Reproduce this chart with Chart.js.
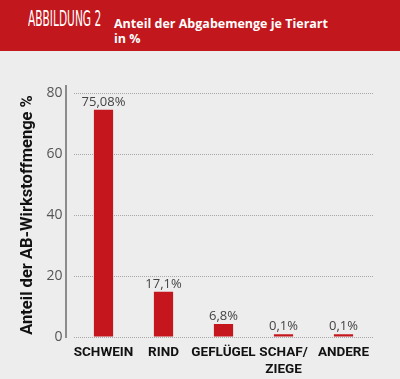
<!DOCTYPE html>
<html>
<head>
<meta charset="utf-8">
<script src="https://cdn.jsdelivr.net/npm/chart.js@4/dist/chart.umd.min.js"></script>
<style>
  html, body { margin: 0; padding: 0; background: #ededed; width: 400px; height: 379px; overflow: hidden; }
  #header { position: absolute; left: 0; top: 0; width: 400px; height: 51px; background: #c2171c; }
  #fig { position: absolute; left: 28px; top: 6px; color: #fff; font-family: "DejaVu Sans Condensed", "DejaVu Sans", sans-serif; font-size: 21.5px; font-weight: 300; transform-origin: 0 0; transform: scaleX(0.55); white-space: nowrap; letter-spacing: 0; }
  #title { position: absolute; left: 114px; top: 16px; color: #fff; font-family: "Open Sans", sans-serif; font-weight: 700; font-size: 12.5px; line-height: 15px; white-space: nowrap; }
  #wrap { position: absolute; left: 0; top: 51px; width: 400px; height: 328px; }
</style>
</head>
<body>
<div id="header">
  <div id="fig">ABBILDUNG 2</div>
  <div id="title">Anteil der Abgabemenge je Tierart<br>in %</div>
</div>
<div id="wrap"><canvas id="c" width="400" height="328"></canvas></div>
<script>
const categories = ["SCHWEIN", "RIND", "GEFLÜGEL", ["SCHAF/", "ZIEGE"], "ANDERE"];
const values = [74.5, 14.8, 4.3, 0.9, 0.9];
const valueLabels = ["75,08%", "17,1%", "6,8%", "0,1%", "0,1%"];
const yTicks = [0, 20, 40, 60, 80];
const yTitle = "Anteil der AB-Wirkstoffmenge %";

const barLabels = {
  id: 'barLabels',
  afterDatasetsDraw(chart) {
    const ctx = chart.ctx;
    const meta = chart.getDatasetMeta(0);
    ctx.save();
    ctx.font = '13px "Open Sans", sans-serif';
    ctx.fillStyle = '#444';
    ctx.textAlign = 'center';
    ctx.textBaseline = 'bottom';
    meta.data.forEach((el, i) => {
      ctx.fillText(valueLabels[i], el.x, el.y - 1);
    });
    ctx.restore();
  }
};
const axisLine = {
  id: 'axisLine',
  beforeDatasetsDraw(chart) {
    const ctx = chart.ctx;
    const a = chart.chartArea;
    ctx.save();
    ctx.strokeStyle = '#8c8c8c';
    ctx.lineWidth = 2;
    ctx.beginPath();
    ctx.moveTo(a.left - 7.5, a.top - 8);
    ctx.lineTo(a.left - 7.5, a.bottom + 1);
    ctx.stroke();
    ctx.restore();
  }
};

new Chart(document.getElementById('c'), {
  type: 'bar',
  data: {
    labels: categories,
    datasets: [{
      data: values,
      backgroundColor: '#c4161c',
      borderWidth: 0,
      barPercentage: 0.32,
      categoryPercentage: 1
    }]
  },
  options: {
    responsive: false,
    animation: false,
    devicePixelRatio: 1,
    layout: { padding: { top: 42, right: 26.5, left: 0, bottom: 0 } },
    plugins: { legend: { display: false }, tooltip: { enabled: false } },
    scales: {
      x: {
        grid: { display: false, drawTicks: false },
        border: { display: false },
        ticks: {
          color: '#111',
          font: { family: 'Roboto', weight: 'bold', size: 13.5, lineHeight: 1.25 },
          padding: 7,
          maxRotation: 0,
          autoSkip: false
        },
        afterFit(scale) { scale.height = 42; }
      },
      y: {
        min: 0, max: 80,
        afterBuildTicks(scale) { scale.ticks = yTicks.map(v => ({ value: v })); },
        grid: { color: '#a8a8a8', lineWidth: 1, drawTicks: false },
        border: { display: false, dash: [1, 1] },
        ticks: {
          color: '#555',
          font: { family: '"Open Sans"', size: 14 },
          padding: 11
        },
        title: {
          display: true,
          text: yTitle,
          color: '#111',
          font: { family: 'Roboto', weight: 'bold', size: 16.5, lineHeight: 1.2 },
          padding: { top: 18, bottom: 0 }
        },
        afterFit(scale) { scale.width = 73.5; }
      }
    }
  },
  plugins: [barLabels, axisLine]
});
</script>
</body>
</html>
